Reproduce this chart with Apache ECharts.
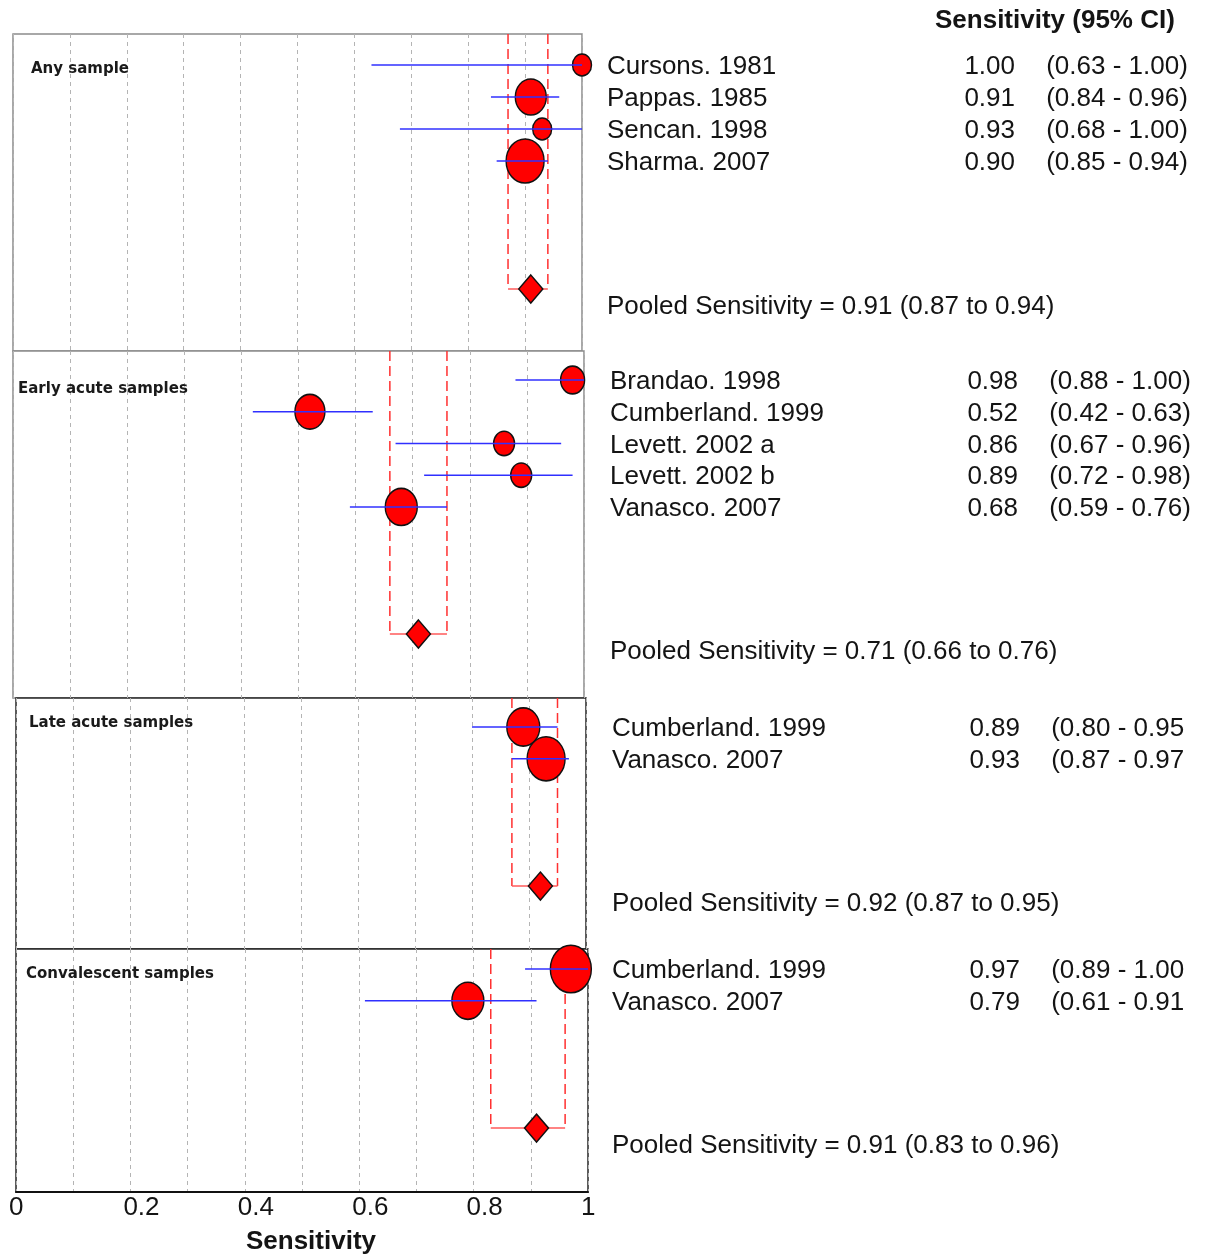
<!DOCTYPE html>
<html>
<head>
<meta charset="utf-8">
<script src="https://cdn.jsdelivr.net/npm/echarts@6/dist/echarts.min.js"></script>
<style>
  html, body { margin: 0; padding: 0; background: #ffffff; }
  #chart { width: 1212px; height: 1256px; }
</style>
</head>
<body>
<div id="chart"></div>
<script>
// Forest plot of sensitivity by sample timing, with pooled estimates per sub-group.

const xTickValues = [0, 0.2, 0.4, 0.6, 0.8, 1];
const xTickLabels = ['0', '0.2', '0.4', '0.6', '0.8', '1'];
const headerText = 'Sensitivity (95% CI)';
const axisTitle = 'Sensitivity';
const panelTitles = ['Any sample', 'Early acute samples', 'Late acute samples', 'Convalescent samples'];

// Any sample
const anyStudies = ['Cursons. 1981', 'Pappas. 1985', 'Sencan. 1998', 'Sharma. 2007'];
const anySens = [1.00, 0.91, 0.93, 0.90];
const anyLow = [0.63, 0.84, 0.68, 0.85];
const anyHigh = [1.00, 0.96, 1.00, 0.94];
const anyWeight = [19, 31, 19, 38];          // relative study weight (marker scale)
const anyPooled = [0.91, 0.87, 0.94];        // estimate, lower, upper

// Early acute samples
const earlyStudies = ['Brandao. 1998', 'Cumberland. 1999', 'Levett. 2002 a', 'Levett. 2002 b', 'Vanasco. 2007'];
const earlySens = [0.98, 0.52, 0.86, 0.89, 0.68];
const earlyLow = [0.88, 0.42, 0.67, 0.72, 0.59];
const earlyHigh = [1.00, 0.63, 0.96, 0.98, 0.76];
const earlyWeight = [24, 30, 21, 21, 32];
const earlyPooled = [0.71, 0.66, 0.76];

// Late acute samples
const lateStudies = ['Cumberland. 1999', 'Vanasco. 2007'];
const lateSens = [0.89, 0.93];
const lateLow = [0.80, 0.87];
const lateHigh = [0.95, 0.97];
const lateWeight = [33, 38];
const latePooled = [0.92, 0.87, 0.95];

// Convalescent samples
const convStudies = ['Cumberland. 1999', 'Vanasco. 2007'];
const convSens = [0.97, 0.79];
const convLow = [0.89, 0.61];
const convHigh = [1.00, 0.91];
const convWeight = [41, 32];
const convPooled = [0.91, 0.83, 0.96];

const groups = [
  { studies: anyStudies, sens: anySens, low: anyLow, high: anyHigh, weight: anyWeight, pooled: anyPooled, closeParen: true },
  { studies: earlyStudies, sens: earlySens, low: earlyLow, high: earlyHigh, weight: earlyWeight, pooled: earlyPooled, closeParen: true },
  { studies: lateStudies, sens: lateSens, low: lateLow, high: lateHigh, weight: lateWeight, pooled: latePooled, closeParen: false },
  { studies: convStudies, sens: convSens, low: convLow, high: convHigh, weight: convWeight, pooled: convPooled, closeParen: false }
];

// Panel placement (pixels) and row ranges of each panel's vertical axis
const layouts = [
  { left: 13, top: 34,  width: 569, height: 317, yMin: -0.969, yMax: 8.937,  border: '#8c8c8c', titleLeft: 31, titleTop: 62,  textLeft: 607 },
  { left: 13, top: 351, width: 571, height: 347, yMin: -0.913, yMax: 10.016, border: '#8c8c8c', titleLeft: 18, titleTop: 382, textLeft: 610 },
  { left: 16, top: 698, width: 570, height: 251, yMin: -0.912, yMax: 6.98,   border: '#262626', titleLeft: 29, titleTop: 716, textLeft: 612 },
  { left: 16, top: 949, width: 572, height: 243, yMin: -0.629, yMax: 7.01,   border: '#262626', titleLeft: 26, titleTop: 967, textLeft: 612 }
];

const TABLE_FONT = '26px "Liberation Sans", Arial, sans-serif';
const TEXT_COLOR = '#141414';
const VALUE_RIGHT = 0.68;   // fraction of the 600px table width
const CI_LEFT = 0.732;
const TEXT_SHIFT = 2;       // baseline nudge of the table rows

const ellipsePath = 'path://M0,-1A1,1 0 1,1 0,1A1,1 0 1,1 0,-1Z';

const grids = [], xAxes = [], yAxes = [], series = [];
const titles = [{
  text: headerText, left: 935, top: 8, padding: 0,
  textStyle: { fontSize: 26, fontWeight: 'bold', fontFamily: '"Liberation Sans", Arial, sans-serif', color: TEXT_COLOR }
}];

groups.forEach((g, i) => {
  const L = layouts[i];
  const n = g.studies.length;
  const pooledRow = n + 3;
  const pg = 2 * i;       // plotting panel grid / axes
  const tg = 2 * i + 1;   // text table grid / axes

  grids.push({ left: L.left, top: L.top, width: L.width, height: L.height, show: true,
    borderColor: L.border, borderWidth: 1.5, backgroundColor: '#ffffff' });
  xAxes.push({ gridIndex: pg, type: 'value', min: 0, max: 1, interval: 0.1, position: 'bottom',
    axisLine: { show: i === 3, onZero: false, lineStyle: { color: '#111', width: 2 } },
    axisTick: { show: false }, axisLabel: { show: false },
    splitLine: { show: true, lineStyle: { type: [4, 4], color: '#b4b4b4', width: 1 } } });
  yAxes.push({ gridIndex: pg, type: 'value', inverse: true, min: L.yMin, max: L.yMax,
    axisLine: { show: false, onZero: false }, axisTick: { show: false }, axisLabel: { show: false }, splitLine: { show: false } });

  grids.push({ left: L.textLeft, top: L.top, width: 600, height: L.height, show: false });
  xAxes.push({ gridIndex: tg, type: 'value', min: 0, max: 1, show: false });
  yAxes.push({ gridIndex: tg, type: 'value', inverse: true, min: L.yMin, max: L.yMax, show: false });

  titles.push({ text: panelTitles[i], left: L.titleLeft, top: L.titleTop, padding: 0,
    textStyle: { fontSize: 15, fontWeight: 'bold', fontFamily: '"DejaVu Sans", sans-serif', color: '#1a1a1a' } });

  // pooled confidence bracket
  series.push({
    type: 'custom', xAxisIndex: pg, yAxisIndex: pg, z: 2, clip: false,
    data: [[g.pooled[1], g.pooled[2], pooledRow]],
    encode: { x: [0, 1], y: 2 },
    renderItem: (params, api) => {
      const a = api.coord([api.value(0), api.value(2)]);
      const b = api.coord([api.value(1), api.value(2)]);
      const top = params.coordSys.y;
      const dash = { stroke: '#ff3030', lineWidth: 1.5, lineDash: [10, 5] };
      return { type: 'group', children: [
        { type: 'line', shape: { x1: a[0], y1: top, x2: a[0], y2: a[1] }, style: dash },
        { type: 'line', shape: { x1: b[0], y1: top, x2: b[0], y2: b[1] }, style: dash },
        { type: 'line', shape: { x1: a[0], y1: a[1], x2: b[0], y2: b[1] }, style: { stroke: '#ff5a5a', lineWidth: 1.5 } }
      ] };
    }
  });

  // study markers
  series.push({
    type: 'scatter', xAxisIndex: pg, yAxisIndex: pg, z: 3, clip: false,
    symbol: ellipsePath,
    itemStyle: { color: '#ff0000', borderColor: '#111', borderWidth: 1.5, opacity: 1 },
    data: g.sens.map((s, j) => ({ value: [s, j], symbolSize: [g.weight[j], g.weight[j] * 1.16] }))
  });

  // pooled estimate
  series.push({
    type: 'scatter', xAxisIndex: pg, yAxisIndex: pg, z: 3, clip: false,
    symbol: 'diamond', symbolSize: [24, 28],
    itemStyle: { color: '#ff0000', borderColor: '#111', borderWidth: 1.5, opacity: 1 },
    data: [[g.pooled[0], pooledRow]]
  });

  // confidence intervals
  series.push({
    type: 'custom', xAxisIndex: pg, yAxisIndex: pg, z: 4, clip: false,
    data: g.low.map((lo, j) => [lo, g.high[j], j]),
    encode: { x: [0, 1], y: 2 },
    renderItem: (params, api) => {
      const a = api.coord([api.value(0), api.value(2)]);
      const b = api.coord([api.value(1), api.value(2)]);
      return { type: 'line', shape: { x1: a[0], y1: a[1], x2: b[0], y2: b[1] },
        style: { stroke: '#3030ff', lineWidth: 1.5 } };
    }
  });

  // text table beside the panel
  const txt = (x, y, text, align) => ({
    type: 'text', x: x, y: y + TEXT_SHIFT,
    style: { text: text, font: TABLE_FONT, fill: TEXT_COLOR,
      align: align, verticalAlign: 'middle', textAlign: align, textVerticalAlign: 'middle' }
  });

  series.push({
    type: 'custom', xAxisIndex: tg, yAxisIndex: tg, z: 2, clip: false,
    data: g.studies.map((_, j) => [0, j]),
    encode: { x: 0, y: 1 },
    renderItem: (params, api) => {
      const j = params.dataIndex;
      const p0 = api.coord([0, j]);
      const p1 = api.coord([VALUE_RIGHT, j]);
      const p2 = api.coord([CI_LEFT, j]);
      const ci = '(' + g.low[j].toFixed(2) + ' - ' + g.high[j].toFixed(2) + (g.closeParen ? ')' : '');
      return { type: 'group', children: [
        txt(p0[0], p0[1], g.studies[j], 'left'),
        txt(p1[0], p1[1], g.sens[j].toFixed(2), 'right'),
        txt(p2[0], p2[1], ci, 'left')
      ] };
    }
  });

  series.push({
    type: 'custom', xAxisIndex: tg, yAxisIndex: tg, z: 2, clip: false,
    data: [[0, pooledRow]],
    encode: { x: 0, y: 1 },
    renderItem: (params, api) => {
      const p = api.coord([0, pooledRow]);
      const label = 'Pooled Sensitivity = ' + g.pooled[0].toFixed(2) + ' (' +
        g.pooled[1].toFixed(2) + ' to ' + g.pooled[2].toFixed(2) + ')';
      return txt(p[0], p[1] + 16, label, 'left');
    }
  });
});

// shared sensitivity scale under the last panel
grids.push({ left: layouts[3].left - 7, top: layouts[3].top, width: layouts[3].width, height: layouts[3].height, show: false });
xAxes.push({
  gridIndex: 8, type: 'value', min: 0, max: 1, interval: 0.2, position: 'bottom',
  axisLine: { show: false, onZero: false }, axisTick: { show: false }, splitLine: { show: false },
  axisLabel: { show: true, align: 'left', margin: 4, fontSize: 26, color: TEXT_COLOR,
    fontFamily: '"Liberation Sans", Arial, sans-serif',
    formatter: v => { const k = xTickValues.findIndex(t => Math.abs(t - v) < 1e-9); return k >= 0 ? xTickLabels[k] : ''; } },
  name: axisTitle, nameLocation: 'middle', nameGap: 38,
  nameTextStyle: { fontSize: 26, fontWeight: 'bold', color: TEXT_COLOR,
    fontFamily: '"Liberation Sans", Arial, sans-serif', padding: [0, 0, 0, 32] }
});
yAxes.push({ gridIndex: 8, type: 'value', show: false, min: 0, max: 1 });

const chart = echarts.init(document.getElementById('chart'), null, { renderer: 'canvas' });
chart.setOption({
  animation: false,
  backgroundColor: '#ffffff',
  title: titles,
  grid: grids,
  xAxis: xAxes,
  yAxis: yAxes,
  series: series
});
</script>
</body>
</html>
